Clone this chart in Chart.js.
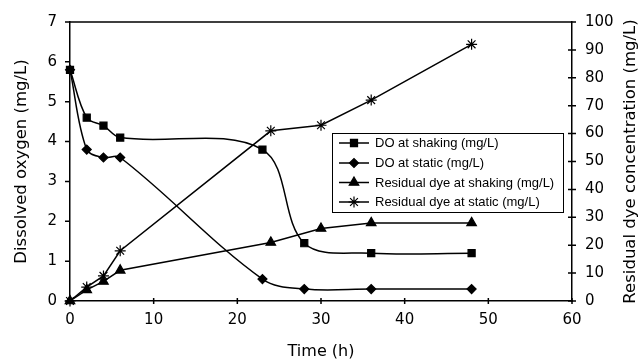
<!DOCTYPE html>
<html>
<head>
<meta charset="utf-8">
<script src="https://cdn.jsdelivr.net/npm/chart.js@4"></script>
<style>
  html, body { margin: 0; padding: 0; background: #fff; }
  #wrap { width: 640px; height: 362px; position: relative; }
</style>
</head>
<body>
<div id="wrap"><canvas id="chart"></canvas></div>
<script>
// time points (h)
const timeDO = [0, 2, 4, 6, 23, 28, 36, 48];
const timeDye = [0, 2, 4, 6, 24, 30, 36, 48];
// dissolved oxygen (mg/L), left axis
const doShaking = [5.8, 4.6, 4.4, 4.1, 3.8, 1.45, 1.2, 1.2];
const doStatic = [5.8, 3.8, 3.6, 3.6, 0.55, 0.3, 0.3, 0.3];
// residual dye (mg/L), right axis
const dyeShaking = [0, 4, 7, 11, 21, 26, 28, 28];
const dyeStatic = [0, 5, 9, 18, 61, 63, 72, 92];

const FONT = "'DejaVu Sans', sans-serif";
const LEGEND_FONT = "'Liberation Sans', Arial, sans-serif";

function pairs(xs, ys) {
  return xs.map((x, i) => ({ x: x, y: ys[i] }));
}

function series(label, xs, ys, axis, style, radius, tension) {
  return {
    label: label,
    data: pairs(xs, ys),
    yAxisID: axis,
    showLine: true,
    borderColor: "#000",
    backgroundColor: "#000",
    borderWidth: 1.5,
    pointStyle: style,
    pointRadius: radius,
    pointBorderWidth: 1.2,
    pointBackgroundColor: "#000",
    pointBorderColor: "#000",
    tension: tension,
    clip: false,
  };
}

// ticks, top border, axis titles and legend box
const decorations = {
  id: "decorations",
  afterDraw(chart) {
    const ctx = chart.ctx;
    const a = chart.chartArea;
    const sx = chart.scales.x, sy = chart.scales.y, sy2 = chart.scales.y2;
    ctx.save();
    ctx.strokeStyle = "#000";
    ctx.lineWidth = 1.5;
    ctx.beginPath();
    ctx.moveTo(a.left, a.top);
    ctx.lineTo(a.right, a.top);
    sy.ticks.forEach((t) => {
      const py = sy.getPixelForValue(t.value);
      ctx.moveTo(a.left - 5, py);
      ctx.lineTo(a.left, py);
    });
    sy2.ticks.forEach((t) => {
      const py = sy2.getPixelForValue(t.value);
      ctx.moveTo(a.right - 4, py);
      ctx.lineTo(a.right + 4, py);
    });
    sx.ticks.forEach((t) => {
      const px = sx.getPixelForValue(t.value);
      ctx.moveTo(px, a.bottom - 3);
      ctx.lineTo(px, a.bottom + 3);
    });
    ctx.stroke();

    // axis titles
    ctx.fillStyle = "#000";
    ctx.font = "16px " + FONT;
    ctx.textAlign = "center";
    ctx.textBaseline = "middle";
    ctx.fillText("Time (h)", (a.left + a.right) / 2, 352);

    ctx.font = "16.5px " + FONT;
    ctx.save();
    ctx.translate(22, (a.top + a.bottom) / 2);
    ctx.rotate(-Math.PI / 2);
    ctx.fillText("Dissolved oxygen (mg/L)", 0, 0);
    ctx.restore();

    ctx.save();
    ctx.translate(631, (a.top + a.bottom) / 2);
    ctx.rotate(-Math.PI / 2);
    ctx.fillText("Residual dye concentration (mg/L)", 0, 0);
    ctx.restore();

    // legend
    const bx = 332, by = 133, bw = 231, bh = 79;
    ctx.fillStyle = "#fff";
    ctx.fillRect(bx, by, bw, bh);
    ctx.lineWidth = 1;
    ctx.strokeRect(bx + 0.5, by + 0.5, bw, bh);
    ctx.font = "13px " + LEGEND_FONT;
    ctx.textAlign = "left";
    const rows = [143, 163, 182.5, 202];
    chart.data.datasets.forEach((ds, i) => {
      const y = rows[i];
      ctx.strokeStyle = "#000";
      ctx.fillStyle = "#000";
      ctx.lineWidth = 1.5;
      ctx.beginPath();
      ctx.moveTo(339, y);
      ctx.lineTo(369, y);
      ctx.stroke();
      ctx.lineWidth = 1.2;
      Chart.helpers.drawPoint(ctx, {
        pointStyle: ds.pointStyle,
        radius: ds.pointRadius,
        rotation: 0,
        borderWidth: 1.2,
      }, 354, y);
      ctx.fillStyle = "#000";
      ctx.fillText(ds.label, 375, y + 0.5);
    });
    ctx.restore();
  },
};

const tickFont = { family: FONT, size: 15 };

new Chart(document.getElementById("chart"), {
  type: "scatter",
  data: {
    datasets: [
      series("DO at shaking (mg/L)", timeDO, doShaking, "y", "rect", 5, 0.35),
      series("DO at static (mg/L)", timeDO, doStatic, "y", "rectRot", 4.5, 0.35),
      series("Residual dye at shaking (mg/L)", timeDye, dyeShaking, "y2", "triangle", 5.5, 0),
      series("Residual dye at static (mg/L)", timeDye, dyeStatic, "y2", "star", 5.5, 0),
    ],
  },
  options: {
    responsive: true,
    maintainAspectRatio: false,
    animation: false,
    layout: { padding: { top: 22, left: 0, right: 0, bottom: 0 } },
    plugins: {
      legend: { display: false },
      tooltip: { enabled: false },
    },
    scales: {
      x: {
        type: "linear",
        min: 0,
        max: 60,
        ticks: { stepSize: 10, color: "#000", font: tickFont, padding: 10, maxRotation: 0 },
        grid: { display: false, drawTicks: false },
        border: { color: "#000", width: 1.5 },
        afterFit(s) { s.height = 61; },
      },
      y: {
        position: "left",
        min: 0,
        max: 7,
        ticks: { stepSize: 1, color: "#000", font: tickFont, padding: 13 },
        grid: { display: false, drawTicks: false },
        border: { color: "#000", width: 1.5 },
        afterFit(s) { s.width = 70; },
      },
      y2: {
        position: "right",
        min: 0,
        max: 100,
        ticks: { stepSize: 10, color: "#000", font: tickFont, padding: 13 },
        grid: { display: false, drawTicks: false },
        border: { color: "#000", width: 1.5 },
        afterFit(s) { s.width = 68; },
      },
    },
  },
  plugins: [decorations],
});
</script>
</body>
</html>
